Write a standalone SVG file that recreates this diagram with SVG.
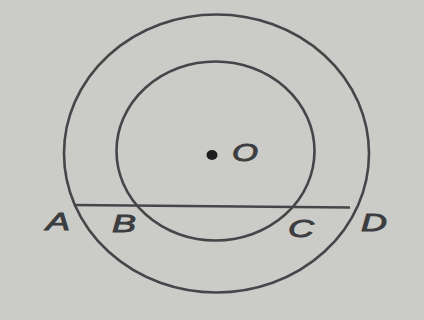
<svg xmlns="http://www.w3.org/2000/svg" width="424" height="320" viewBox="0 0 424 320">
<style>
.c{fill:none;stroke:#45464a;stroke-width:2.6}
.t{font-family:"Liberation Sans",Arial,sans-serif;font-style:italic;font-size:24px;fill:#3c3d40;stroke:#3c3d40;stroke-width:0.9}
</style>
<rect x="0" y="0" width="424" height="320" fill="#cbccc7"/>
<g id="outer"><ellipse class="c" cx="216.5" cy="153.5" rx="152.5" ry="139"/></g>
<g id="inner"><ellipse class="c" cx="215.5" cy="151" rx="99" ry="89.5"/></g>
<g id="connectors"><line class="c" x1="74" y1="205" x2="350" y2="207.5"/></g>
<g id="center"><ellipse cx="212" cy="155" rx="5.5" ry="5" fill="#1e1e1e"/><text class="t" x="232" y="161" textLength="26" lengthAdjust="spacingAndGlyphs">O</text></g>
<g id="A"><text class="t" x="46" y="230" textLength="24" lengthAdjust="spacingAndGlyphs">A</text></g>
<g id="B"><text class="t" x="112" y="232" textLength="24" lengthAdjust="spacingAndGlyphs">B</text></g>
<g id="C"><text class="t" x="288" y="237" textLength="26" lengthAdjust="spacingAndGlyphs">C</text></g>
<g id="D"><text class="t" x="361" y="231" textLength="26" lengthAdjust="spacingAndGlyphs">D</text></g>
</svg>
